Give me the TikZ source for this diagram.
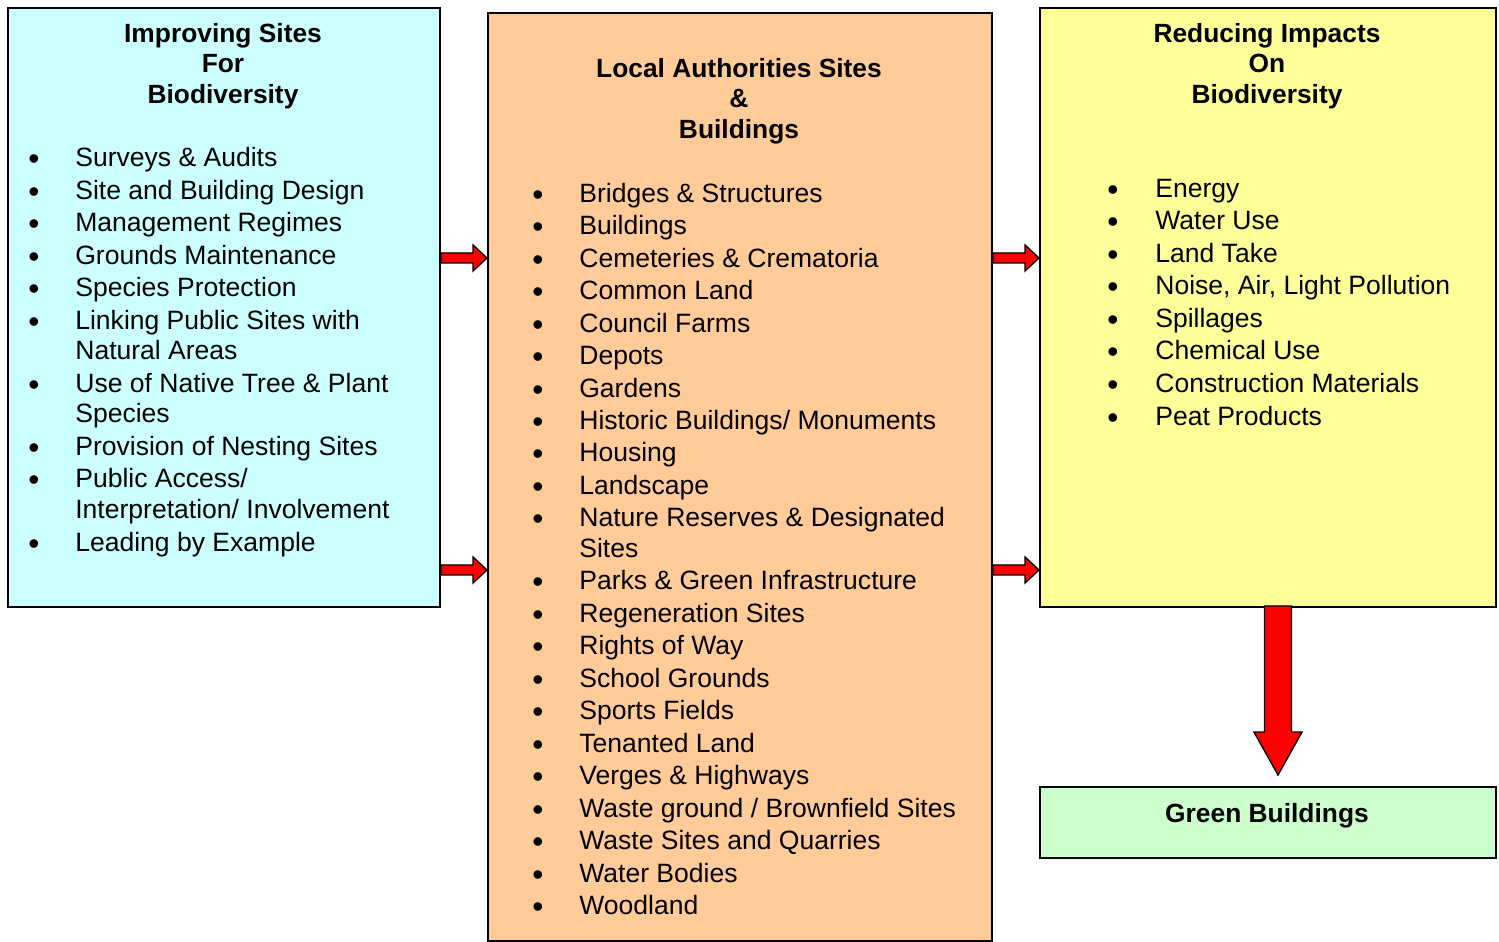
\documentclass[tikz,border=0pt]{standalone}
\usepackage{fontspec}
\setmainfont{Liberation Sans}
\usetikzlibrary{calc}
\definecolor{cyanfill}{HTML}{CCFFFF}
\definecolor{peachfill}{HTML}{FFCC99}
\definecolor{yellowfill}{HTML}{FFFF99}
\definecolor{greenfill}{HTML}{CCFFCC}
\definecolor{arrowred}{HTML}{FF0000}
\tikzset{
  panel/.style={draw=black, line width=1.1pt, anchor=north west, inner sep=0pt},
  heading/.style={font=\bfseries\fontsize{15}{17.3}\selectfont, align=center, inner sep=0pt, yshift=-0.04cm},
  bullet/.style={font=\fontsize{18}{18}\selectfont, inner sep=0pt, yshift=-0.1cm},
  entry/.style={font=\fontsize{15.1}{18}\selectfont, anchor=mid west, inner sep=0pt, yshift=-0.1cm},
  fatarrow/.style={draw=black, fill=arrowred, line width=0.8pt, line join=miter}
}
% block arrow: from, to, half shaft, half head, head length
\newcommand{\blockarrow}[5]{%
  \coordinate (hb) at ($(#2)!#5!(#1)$);
  \filldraw[fatarrow] ($(#1)!#3!90:(#2)$) -- ($(hb)!#3!90:(#2)$) -- ($(hb)!#4!90:(#2)$)
    -- (#2) -- ($(hb)!#4!-90:(#2)$) -- ($(hb)!#3!-90:(#2)$) -- ($(#1)!#3!-90:(#2)$) -- cycle;}

\begin{document}
\begin{tikzpicture}[x=0.02cm, y=-0.02cm]
\useasboundingbox (0,0) rectangle (1499,942);

% the four panels
\node[panel, fill=cyanfill, minimum width=8.64cm, minimum height=11.98cm] (imp) at (7,7) {};
\node[panel, fill=peachfill, minimum width=10.08cm, minimum height=18.56cm] (loc) at (487,12) {};
\node[panel, fill=yellowfill, minimum width=9.12cm, minimum height=11.98cm] (red) at (1039,7) {};
\node[panel, fill=greenfill, minimum width=9.12cm, minimum height=1.42cm] (grn) at (1039,786) {};

% headings
\node[heading] (imphead) at (223,64) {Improving Sites\\For\\Biodiversity};
\node[heading] (lochead) at (739,99) {Local Authorities Sites\\\&\\Buildings};
\node[heading] (redhead) at (1267,64) {Reducing Impacts\\On\\Biodiversity};
\node[heading, yshift=-0.02cm] (grnhead) at (1267,813) {Green Buildings};

% left list
\foreach \y/\t in {157/Surveys \& Audits, 190/Site and Building Design, 222/Management Regimes,
  255/Grounds Maintenance, 287/Species Protection, 320/Linking Public Sites with,
  383/Use of Native Tree \& Plant, 446/Provision of Nesting Sites, 478/Public Access{/},
  542/Leading by Example} {
  \node[bullet] (impb\y) at (34,\y) {\textbullet};
  \node[entry] (impi\y) at (75,\y) {\t};
}
\node[entry] (impi350) at (75,350) {Natural Areas};
\node[entry] (impi413) at (75,413) {Species};
\node[entry] (impi509) at (75,509) {Interpretation/ Involvement};

% middle list
\foreach \y/\t in {193/Bridges \& Structures, 225/Buildings, 258/Cemeteries \& Crematoria,
  290/Common Land, 323/Council Farms, 355/Depots, 388/Gardens, 420/Historic Buildings{/} Monuments,
  452/Housing, 485/Landscape, 517/Nature Reserves \& Designated, 580/Parks \& Green Infrastructure,
  613/Regeneration Sites, 645/Rights of Way, 678/School Grounds, 710/Sports Fields,
  743/Tenanted Land, 775/Verges \& Highways, 808/Waste ground {/} Brownfield Sites,
  840/Waste Sites and Quarries, 873/Water Bodies, 905/Woodland} {
  \node[bullet] (locb\y) at (538,\y) {\textbullet};
  \node[entry] (loci\y) at (579,\y) {\t};
}
\node[entry] (loci548) at (579,548) {Sites};

% right list
\foreach \y/\t in {188/Energy, 220/Water Use, 253/Land Take, {285/Noise, Air, Light Pollution},
  318/Spillages, 350/Chemical Use, 383/Construction Materials, 416/Peat Products} {
  \node[bullet] (redb\y) at (1113,\y) {\textbullet};
  \node[entry] (redi\y) at (1155,\y) {\t};
}

% arrows between panels
\coordinate (ya) at (0,258);
\coordinate (yb) at (0,570);
\coordinate (a1) at (imp.east |- ya);
\coordinate (a2) at (loc.west |- ya);
\coordinate (b1) at (imp.east |- yb);
\coordinate (b2) at (loc.west |- yb);
\coordinate (c1) at (loc.east |- ya);
\coordinate (c2) at (red.west |- ya);
\coordinate (d1) at (loc.east |- yb);
\coordinate (d2) at (red.west |- yb);
\blockarrow{a1}{a2}{0.1cm}{0.26cm}{0.28cm}
\blockarrow{b1}{b2}{0.1cm}{0.26cm}{0.28cm}
\blockarrow{c1}{c2}{0.1cm}{0.26cm}{0.28cm}
\blockarrow{d1}{d2}{0.1cm}{0.26cm}{0.28cm}
\coordinate (e1) at (1278,606);
\coordinate (e2) at (1278,775);
\blockarrow{e1}{e2}{0.27cm}{0.48cm}{0.86cm}
\end{tikzpicture}
\end{document}
